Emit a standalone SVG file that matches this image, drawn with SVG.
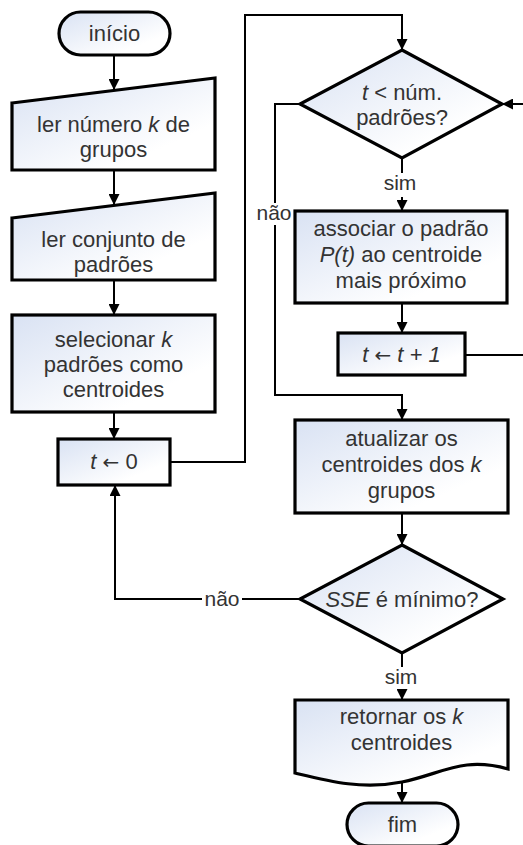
<svg xmlns="http://www.w3.org/2000/svg" width="523" height="845" viewBox="0 0 523 845">
<defs>
<linearGradient id="g" x1="0" y1="0" x2="1" y2="1">
<stop offset="0" stop-color="#d9e2f3"/>
<stop offset="0.75" stop-color="#ffffff"/>
</linearGradient>
<marker id="ah" viewBox="0 0 10 10" refX="10" refY="5" markerWidth="11" markerHeight="11" markerUnits="userSpaceOnUse" orient="auto">
<path d="M0,0 L10,5 L0,10 Z" fill="#000"/>
</marker>
<style>
.s{fill:url(#g);stroke:#000;stroke-width:3.2;stroke-linejoin:miter}
.t{font-family:"Liberation Sans",Arial,sans-serif;font-size:22px;fill:#333;text-anchor:middle}
.l{font-family:"Liberation Sans",Arial,sans-serif;font-size:21px;fill:#333;text-anchor:middle}
.c{fill:none;stroke:#000;stroke-width:2}
.a{marker-end:url(#ah)}
.i{font-style:italic}
.ar{font-family:"DejaVu Sans",sans-serif;font-style:normal;font-size:20px}
</style>
</defs>
<rect width="523" height="845" fill="#fff"/>
<g id="connectors">
<path class="c a" d="M114,55 V90"/>
<path class="c a" d="M114,170 V205"/>
<path class="c a" d="M114,280 V315"/>
<path class="c a" d="M114,412 V439"/>
<path class="c a" d="M170,462 H245 V15 H402 V50"/>
<path class="c" d="M402,158 V173"/>
<path class="c a" d="M402,197 V211"/>
<path class="c a" d="M300,104 H275 V395 H402 V420"/>
<path class="c a" d="M402,303 V333"/>
<path class="c a" d="M465,355 H530 V104 H502"/>
<path class="c a" d="M402,513 V545"/>
<path class="c a" d="M300,599 H115 V485"/>
<path class="c" d="M402,653 V667"/>
<path class="c a" d="M402,690 V700"/>
<path class="c a" d="M402,782 V803"/>
<rect x="256" y="203" width="38" height="22" fill="#fff"/>
<rect x="202" y="589" width="40" height="20" fill="#fff"/>
<text class="l" x="274" y="220">não</text>
<text class="l" x="222" y="606">não</text>
<text class="l" x="400" y="190">sim</text>
<text class="l" x="401" y="684">sim</text>
</g>
<g id="inicio">
<rect class="s" x="59" y="12" width="111" height="43" rx="21.5"/>
<text class="t" x="114.5" y="41">início</text>
</g>
<g id="ler-k">
<path class="s" d="M12,103 L215,78 L215,170 L12,170 Z"/>
<text class="t" x="113.5" y="132">ler número <tspan class="i">k</tspan> de</text>
<text class="t" x="113.5" y="157">grupos</text>
</g>
<g id="ler-padroes">
<path class="s" d="M12,218 L215,193 L215,280 L12,280 Z"/>
<text class="t" x="113.5" y="247">ler conjunto de</text>
<text class="t" x="113.5" y="272">padrões</text>
</g>
<g id="selecionar">
<rect class="s" x="12" y="315" width="203" height="97"/>
<text class="t" x="113.5" y="347">selecionar <tspan class="i">k</tspan></text>
<text class="t" x="113.5" y="372">padrões como</text>
<text class="t" x="113.5" y="397">centroides</text>
</g>
<g id="t0">
<rect class="s" x="58" y="439" width="112" height="46"/>
<text class="t" x="114" y="469"><tspan class="i">t</tspan> <tspan class="ar">←</tspan> 0</text>
</g>
<g id="decisao1">
<path class="s" d="M402,50 L502,104 L402,158 L300,104 Z"/>
<text class="t" x="402" y="100"><tspan class="i">t</tspan> &lt; núm.</text>
<text class="t" x="402" y="125">padrões?</text>
</g>
<g id="associar">
<rect class="s" x="295" y="211" width="212" height="92"/>
<text class="t" x="401" y="236">associar o padrão</text>
<text class="t" x="401" y="262"><tspan class="i">P(t)</tspan> ao centroide</text>
<text class="t" x="401" y="288">mais próximo</text>
</g>
<g id="incremento">
<rect class="s" x="338" y="333" width="127" height="42"/>
<text class="t i" x="401.5" y="362">t <tspan class="ar">←</tspan> t + 1</text>
</g>
<g id="atualizar">
<rect class="s" x="295" y="420" width="213" height="93"/>
<text class="t" x="401.5" y="446">atualizar os</text>
<text class="t" x="401.5" y="472">centroides dos <tspan class="i">k</tspan></text>
<text class="t" x="401.5" y="498">grupos</text>
</g>
<g id="decisao2">
<path class="s" d="M402,545 L503,599 L402,653 L300,599 Z"/>
<text class="t" x="402" y="607"><tspan class="i">SSE</tspan> é mínimo?</text>
</g>
<g id="retornar">
<path class="s" d="M295,700 H508 V769 C462,756 442,774 402,782 C362,790 328,781 295,773 Z"/>
<text class="t" x="401.5" y="724">retornar os <tspan class="i">k</tspan></text>
<text class="t" x="401.5" y="750">centroides</text>
</g>
<g id="fim">
<rect class="s" x="347" y="803" width="111" height="43" rx="21.5"/>
<text class="t" x="402.5" y="832">fim</text>
</g>
</svg>
